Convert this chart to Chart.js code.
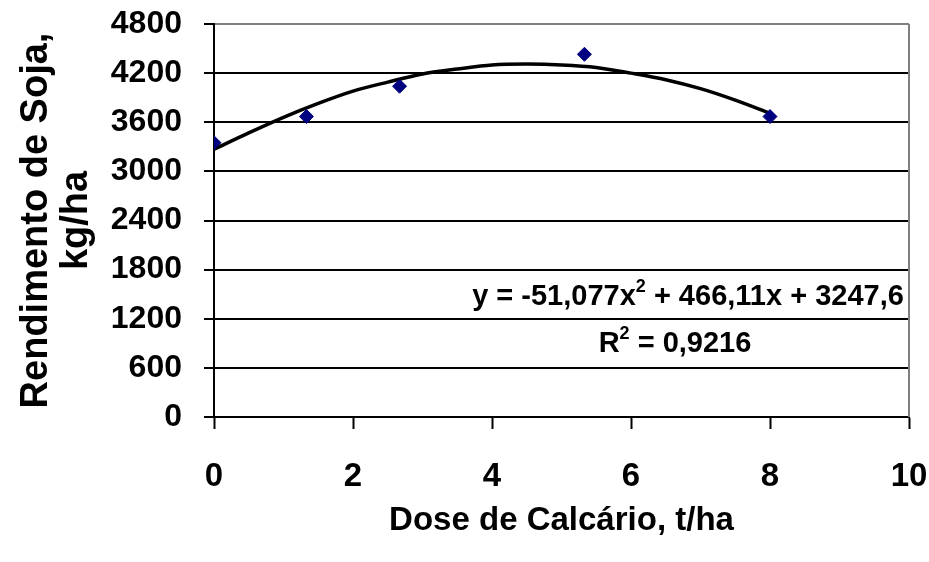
<!DOCTYPE html>
<html>
<head>
<meta charset="utf-8">
<script src="https://cdn.jsdelivr.net/npm/chart.js@4/dist/chart.umd.min.js"></script>
<style>
  html, body { margin: 0; padding: 0; background: #fff; }
  #wrap { width: 929px; height: 562px; position: relative; }
</style>
</head>
<body>
<div id="wrap"><canvas id="c"></canvas></div>
<script>
// Observed points (dose t/ha, yield kg/ha)
const doses = [0, 1.33, 2.67, 5.33, 8];
const yields = [3350, 3670, 4040, 4430, 3670];
// Trend line
const trendX = [0, 0.5, 1, 1.5, 2, 2.5, 3, 3.5, 4, 4.5, 5, 5.5, 6, 6.5, 7, 7.5, 8];
const trendY = [3270, 3470, 3660, 3830, 3980, 4090, 4190, 4250, 4300, 4310, 4300, 4270, 4200, 4120, 4010, 3870, 3710];
const xTicks = [0, 2, 4, 6, 8, 10];
const yTicks = [0, 600, 1200, 1800, 2400, 3000, 3600, 4200, 4800];
const eqMain = ["y = -51,077x", "2", " + 466,11x + 3247,6"];
const eqR2 = ["R", "2", " = 0,9216"];
const xTitle = "Dose de Calcário, t/ha";
const yTitle = ["Rendimento de Soja,", "kg/ha"];

const FONT = "'Liberation Sans', Arial, sans-serif";

function drawSupLine(ctx, parts, cx, cy, size) {
  ctx.save();
  ctx.fillStyle = '#000';
  ctx.textBaseline = 'middle';
  ctx.textAlign = 'left';
  const big = 'bold ' + size + 'px ' + FONT;
  const small = 'bold ' + Math.round(size * 0.62) + 'px ' + FONT;
  ctx.font = big; const w0 = ctx.measureText(parts[0]).width;
  ctx.font = small; const w1 = ctx.measureText(parts[1]).width;
  ctx.font = big; const w2 = ctx.measureText(parts[2]).width;
  let x = cx - (w0 + w1 + w2) / 2;
  ctx.font = big; ctx.fillText(parts[0], x, cy); x += w0;
  ctx.font = small; ctx.fillText(parts[1], x, cy - size * 0.36); x += w1;
  ctx.font = big; ctx.fillText(parts[2], x, cy);
  ctx.restore();
}

const overlay = {
  id: 'overlay',
  afterDraw(chart) {
    const ctx = chart.ctx;
    const a = chart.chartArea;
    ctx.save();
    ctx.strokeStyle = '#808080';
    ctx.lineWidth = 2;
    ctx.beginPath();
    ctx.moveTo(a.right, a.top);
    ctx.lineTo(a.right, a.bottom);
    ctx.stroke();
    ctx.restore();
    drawSupLine(ctx, eqMain, 688, 297, 29);
    drawSupLine(ctx, eqR2, 675, 344, 29);
  }
};

function zeroPad(s) {
  s.paddingTop = 0; s.paddingBottom = 0; s.paddingLeft = 0; s.paddingRight = 0;
}

new Chart(document.getElementById('c'), {
  type: 'scatter',
  data: {
    datasets: [
      {
        label: 'Rendimento',
        data: doses.map((d, i) => ({ x: d, y: yields[i] })),
        pointStyle: 'rectRot',
        pointRadius: 7,
        pointBackgroundColor: '#000080',
        pointBorderColor: '#000080',
        pointBorderWidth: 1,
        showLine: false
      },
      {
        label: 'Polinomial',
        data: trendX.map((d, i) => ({ x: d, y: trendY[i] })),
        showLine: true,
        borderColor: '#000',
        borderWidth: 3.5,
        pointRadius: 0,
        tension: 0.3,
        fill: false
      }
    ]
  },
  options: {
    responsive: true,
    maintainAspectRatio: false,
    animation: false,
    events: [],
    layout: { padding: { top: 24, right: 20, bottom: 0, left: 0 } },
    plugins: { legend: { display: false }, tooltip: { enabled: false } },
    scales: {
      x: {
        type: 'linear',
        min: 0, max: 10,
        afterBuildTicks: (s) => { s.ticks = xTicks.map(v => ({ value: v })); },
        afterFit: (s) => { s.height = 145; zeroPad(s); },
        ticks: {
          color: '#000',
          font: { family: FONT, size: 33, weight: 'bold', lineHeight: 1.2 },
          padding: 28,
          maxRotation: 0,
          callback: (v) => String(v)
        },
        grid: {
          drawOnChartArea: false,
          drawTicks: true,
          tickLength: 12,
          tickColor: '#000',
          tickWidth: 2,
          color: '#000'
        },
        border: { display: true, color: '#000', width: 2 },
        title: {
          display: true,
          text: xTitle,
          color: '#000',
          font: { family: FONT, size: 33, weight: 'bold', lineHeight: 1.2 },
          padding: { top: 0, bottom: 21 }
        }
      },
      y: {
        type: 'linear',
        min: 0, max: 4800,
        afterBuildTicks: (s) => { s.ticks = yTicks.map(v => ({ value: v })); },
        afterFit: (s) => { s.width = 214; zeroPad(s); },
        ticks: {
          color: '#000',
          font: { family: FONT, size: 32, weight: 'bold', lineHeight: 1.2 },
          padding: 22,
          callback: (v) => String(v)
        },
        grid: {
          drawOnChartArea: true,
          drawTicks: true,
          tickLength: 10,
          tickColor: '#000',
          tickWidth: 2,
          lineWidth: 2,
          color: (c) => (c.tick && c.tick.value === 4800 ? '#808080' : '#000')
        },
        border: { display: true, color: '#000', width: 2 },
        title: {
          display: true,
          text: yTitle,
          color: '#000',
          font: { family: FONT, size: 38, weight: 'bold', lineHeight: 1.05 },
          padding: { top: 17, bottom: 0 }
        }
      }
    }
  },
  plugins: [overlay]
});
</script>
</body>
</html>
